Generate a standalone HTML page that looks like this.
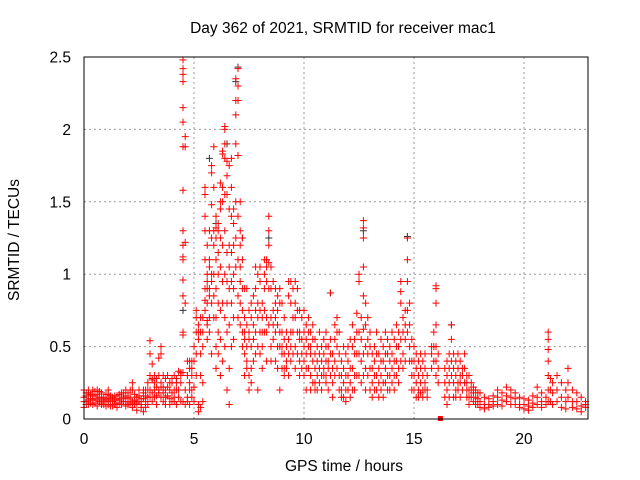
<!DOCTYPE html>
<html><head><meta charset="utf-8"><style>
body{margin:0;background:#fff}
svg{display:block;font-family:"Liberation Sans",sans-serif;font-size:15.5px}
</style></head><body>
<svg id="chart" width="640" height="480" xmlns="http://www.w3.org/2000/svg">
<text x="343" y="33" text-anchor="middle">Day 362 of 2021, SRMTID for receiver mac1</text>
<text x="344" y="471" text-anchor="middle">GPS time / hours</text>
<text transform="translate(19,240) rotate(-90)" text-anchor="middle">SRMTID / TECUs</text>
<g id="grid"></g>
<g id="ticks"></g>
<g id="marks"></g>
<rect x="84" y="57" width="504" height="362" fill="none" stroke="#000"/>
</svg>
<script>
const xTicks=[0,5,10,15,20];
const yTicks=[0,0.5,1,1.5,2,2.5];
const yTickLabels=["0","0.5","1","1.5","2","2.5"];
const times=[0,0.1,0.2,0.3,0.4,0.5,0.6,0.7,0.8,0.9,1.0,1.1,1.2,1.3,1.4,1.5,1.6,1.7,1.8,1.9,2.0,2.1,2.2,2.3,2.4,2.5,2.6,2.7,2.8,2.9,3.0,3.1,3.2,3.3,3.4,3.5,3.6,3.7,3.8,3.9,4.0,4.1,4.2,4.3,4.4,4.5,4.6,4.7,4.8,4.9,5.0,5.1,5.2,5.3,5.4,5.5,5.6,5.7,5.8,5.9,6.0,6.1,6.2,6.3,6.4,6.5,6.6,6.7,6.8,6.9,7.0,7.1,7.2,7.3,7.4,7.5,7.6,7.7,7.8,7.9,8.0,8.1,8.2,8.3,8.4,8.5,8.6,8.7,8.8,8.9,9.0,9.1,9.2,9.3,9.4,9.5,9.6,9.7,9.8,9.9,10.0,10.1,10.2,10.3,10.4,10.5,10.6,10.7,10.8,10.9,11.0,11.1,11.2,11.3,11.4,11.5,11.6,11.7,11.8,11.9,12.0,12.1,12.2,12.3,12.4,12.5,12.6,12.7,12.8,12.9,13.0,13.1,13.2,13.3,13.4,13.5,13.6,13.7,13.8,13.9,14.0,14.1,14.2,14.3,14.4,14.5,14.6,14.7,14.8,14.9,15.0,15.1,15.2,15.3,15.4,15.5,15.6,15.8,15.9,16.0,16.1,16.4,16.5,16.6,16.7,16.8,16.9,17.0,17.1,17.2,17.3,17.4,17.5,17.6,17.7,17.8,17.9,18.0,18.2,18.4,18.6,18.8,19.0,19.2,19.4,19.6,19.8,20.0,20.2,20.4,20.6,20.8,21.0,21.1,21.2,21.3,21.5,21.7,21.9,22.0,22.2,22.4,22.6,22.8];
const values=[[.15,.08,.2,.12],[.12,.18,.1,.16],[.18,.13,.1,.2],[.14,.17,.11],[.1,.16,.2,.13],[.16,.11,.19,.14],[.13,.2,.09,.17],[.19,.12,.15],[.11,.14,.18,.1],[.15,.1,.13],[.12,.17,.09,.14],[.17,.13,.2,.1],[.14,.09,.16],[.09,.12,.15],[.13,.16,.1],[.16,.11,.08,.14],[.11,.17,.13],[.14,.1,.18],[.18,.12,.15],[.12,.09,.16,.2],[.1,.14,.18],[.15,.11,.2],[.2,.25,.12,.08],[.13,.17,.1],[.11,.15,.06],[.16,.12,.2],[.08,.14,.1],[.14,.18,.05,.2],[.12,.2,.08,.16],[.2,.1,.25,.15],[.3,.45,.54,.2,.15],[.38,.27,.18,.28,.12],[.25,.3,.2,.15],[.28,.22,.16,.1],[.18,.42,.3,.2],[.5,.45,.22,.15,.25],[.22,.3,.12,.18],[.15,.2,.28,.1],[.3,.16,.22],[.2,.14,.25,.1],[.25,.18,.12,.28],[.12,.3,.2,.15],[.28,.2,.1,.25],[.2,.33,.15],[.25,.32,.12,.3],[2.48,2.42,2.38,2.33,2.15,2.05,1.88,1.58,1.3,1.2,1.12,1.1,.96,.85,.6,.58,.32,.12],[1.95,1.88,1.22,.8,.2,.1],[.12,.3,.15,.4],[.4,.25,.2,.1,.35],[.35,.3,.15,.4,.2],[.22,.4,.5,.12],[.6,.7,.45,.3,.75],[.65,.55,.6,.1,.05],[.45,.3,.7,.08,.6],[.7,.6,.5,.25,.12],[1.6,1.55,1.4,1.3,1.1,.9,.82,.75],[1.2,1.0,.95,.9,.68,.65,.55,.8],[1.1,1.05,.9,.85,1.3,.7,.6],[1.75,1.7,1.48,1.25,1.0,.95,.8,.45],[1.88,1.6,1.3,1.2,1.0,.85,.7],[1.4,1.32,1.25,1.1,.9,.7,.5,.35],[1.35,1.3,1.15,1.0,.8,.6,.45],[1.63,1.5,1.45,1.25,1.05,.75,.55,.3],[1.85,1.83,1.6,1.5,1.2,.95,.8,.4],[2.02,2.0,1.9,1.8,1.55,1.3,1.0,.7,.5],[1.78,1.68,1.55,1.15,.95,.8,.6,.2],[1.75,1.45,1.2,1.05,.9,.65,.35,.1],[1.8,1.6,1.4,1.15,.95,.8,.5],[1.45,1.35,1.2,1.0,.9,.7,.55],[2.35,2.2,2.1,1.9,1.5,1.25,1.05],[2.42,2.3,2.2,1.82,1.4,1.1,.85,.7],[1.5,1.3,1.2,1.05,.95,.8,.65],[1.25,1.1,.9,.75,.6,.5],[.9,.7,.6,.55,.45,.3],[.65,.5,.4,.35,.9],[.75,.6,.55,.3,.2],[.8,.7,.5,.35,.25],[.85,.65,.55,.4],[1.05,.9,.75,.6,.45],[1.0,.8,.7,.5,.2],[1.05,.95,.75,.6,.45],[.8,.7,.6,.5,.35],[1.1,1.0,.9,.75,.6],[1.1,1.05,.95,.7,.6,.4],[1.4,1.3,1.2,1.08,.9,.65],[1.05,.9,.7,.5,.4],[.95,.75,.65,.55],[.9,.8,.7,.6,.4],[.85,.75,.65,.5,.35],[.9,.8,.6,.5,.2],[.8,.6,.5,.45,.35],[.7,.55,.45,.35,.3],[.6,.5,.4,.35],[.95,.85,.55,.45,.3],[.95,.8,.6,.5,.4],[.9,.7,.6,.45],[.95,.8,.7,.5,.35],[.9,.75,.6,.45],[.75,.6,.55,.4,.3],[.7,.55,.45,.35],[.75,.6,.5,.4,.3],[.65,.55,.45,.35,.2],[.7,.6,.5,.35],[.6,.5,.45,.3,.2],[.65,.55,.4,.25],[.55,.45,.35,.25,.2],[.5,.4,.3,.2],[.6,.45,.35,.25],[.5,.4,.3,.2],[.55,.45,.35,.3],[.6,.5,.4,.3,.25],[.5,.4,.35,.2],[.87,.55,.45,.3],[.45,.35,.25,.15],[.65,.55,.4,.3],[.7,.6,.5,.35],[.6,.45,.3,.2],[.4,.3,.2,.15],[.5,.35,.25,.15],[.45,.3,.2,.12],[.5,.4,.3,.2],[.55,.35,.25,.15],[.65,.5,.35,.2],[.55,.45,.3,.2],[.73,.6,.45,.3],[.95,1.0,.6,.45,.3],[.7,.55,.4,.25],[1.37,1.32,1.25,1.05,.85,.62,.45,.3],[.8,.65,.5,.35,.2],[.7,.55,.45,.3],[.6,.5,.35,.2],[.45,.35,.25,.15],[.5,.4,.3,.2],[.6,.45,.3,.2],[.45,.35,.25,.15],[.55,.4,.3,.2],[.5,.4,.25,.15],[.6,.45,.35,.25],[.55,.45,.3,.2],[.5,.4,.3,.2],[.6,.45,.35,.25],[.55,.4,.3,.2],[.65,.5,.4,.3],[.6,.5,.35,.25],[.95,.88,.8,.55,.4],[.7,.6,.45,.35],[.75,.65,.55,.4],[1.25,1.1,.95,.75,.6],[.8,.65,.5,.4],[.55,.4,.3,.2],[.5,.4,.3,.2],[.45,.35,.25,.15],[.4,.3,.2,.15],[.45,.35,.25,.18],[.4,.3,.2,.15],[.45,.35,.25,.2],[.3,.2,.15],[.5,.45,.35],[.6,.5,.4],[.92,.9,.8,.65,.5,.4,.3],[.45,.35,.25],[.35,.25,.15],[.4,.3,.2,.1],[.45,.35,.25,.15],[.65,.55,.4,.3],[.45,.35,.25,.15],[.4,.3,.2,.15],[.45,.35,.25,.2],[.4,.3,.25,.15],[.35,.3,.2],[.45,.35,.25],[.3,.25,.2,.15],[.3,.2,.15,.1],[.25,.2,.15],[.22,.18,.12],[.2,.15,.1],[.18,.14,.1],[.18,.12,.08],[.15,.1,.07],[.14,.1,.08],[.16,.12,.09],[.2,.15,.1],[.18,.13,.09],[.22,.16,.12],[.2,.15,.1],[.18,.14,.1],[.15,.1,.08],[.14,.1,.07],[.13,.09,.06],[.16,.11,.08],[.22,.15,.1],[.18,.12,.08],[.15,.1],[.6,.55,.48,.4,.3,.2,.12],[.28,.2,.12],[.25,.18,.1],[.3,.2,.12],[.25,.15,.08],[.2,.12,.07],[.35,.25,.15],[.2,.12,.08],[.18,.12,.07],[.15,.09,.05],[.12,.1,.08]];
const blackTimes=[4.5,5.7,6.0,6.5,6.9,7.0,7.2,8.4,12.7,14.7,11.2,16.7];
const blackValues=[0.75,1.8,1.35,1.9,2.33,2.43,1.25,1.25,1.3,1.26,0.87,0.65];
const squareTimes=[16.2];
const squareValues=[0.0];
const svg=document.getElementById('chart');
const NS='http://www.w3.org/2000/svg';
const X0=84,X1=588,Y0=419,Y1=57;
function xs(t){return X0+t*22;}
function ys(v){return Y0-(v/2.5)*(Y0-Y1);}
const grid=document.getElementById('grid'),ticks=document.getElementById('ticks'),marks=document.getElementById('marks');
xTicks.forEach(t=>{
 const x=xs(t);
 if(t>0){const l=document.createElementNS(NS,'line');
 l.setAttribute('x1',x);l.setAttribute('x2',x);l.setAttribute('y1',Y1);l.setAttribute('y2',Y0);
 l.setAttribute('stroke','#999');l.setAttribute('stroke-dasharray','2,3');
 
 
 grid.appendChild(l);}
 const tx=document.createElementNS(NS,'text');
 tx.setAttribute('x',x);tx.setAttribute('y',444);tx.setAttribute('text-anchor','middle');tx.textContent=t;
 
 
 ticks.appendChild(tx);
});
yTicks.forEach((v,i)=>{
 const y=ys(v);
 if(v>0&&v<2.5){const l=document.createElementNS(NS,'line');
 l.setAttribute('x1',X0);l.setAttribute('x2',X1);l.setAttribute('y1',y);l.setAttribute('y2',y);
 l.setAttribute('stroke','#999');l.setAttribute('stroke-dasharray','2,3');
 
 
 grid.appendChild(l);}
 const tx=document.createElementNS(NS,'text');
 tx.setAttribute('x',71);tx.setAttribute('y',y+5.5);tx.setAttribute('text-anchor','end');tx.textContent=yTickLabels[i];
 
 
 ticks.appendChild(tx);
});
function plus(t,v,color){
 const x=xs(t),y=ys(v);
 const p=document.createElementNS(NS,'path');
 p.setAttribute('d',`M${x-3.5},${y}h7M${x},${y-3.5}v7`);
 p.setAttribute('stroke',color);p.setAttribute('stroke-width','1');
 
 
 marks.appendChild(p);
}
blackTimes.forEach((t,i)=>plus(t,blackValues[i],'#333'));
times.forEach((t,i)=>values[i].forEach(v=>plus(t,v,'#ff0000')));
squareTimes.forEach((t,i)=>{
 const r=document.createElementNS(NS,'rect');
 r.setAttribute('x',xs(t)-2.5);r.setAttribute('y',ys(squareValues[i])-3);
 r.setAttribute('width',5);r.setAttribute('height',5);r.setAttribute('fill','#ff0000');
 
 
 marks.appendChild(r);
});
</script>
</body></html>
